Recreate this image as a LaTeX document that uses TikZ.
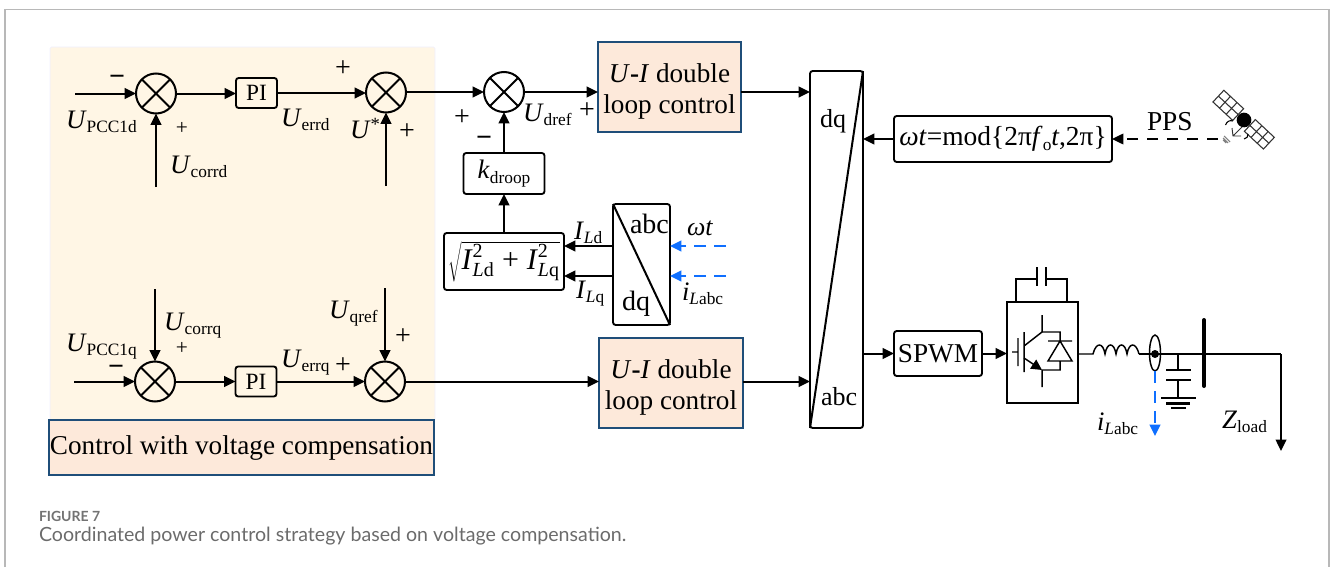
\documentclass[tikz,border=0pt]{standalone}
\usepackage{fontspec}
\setmainfont{Liberation Serif}
\newfontfamily\capfont{Lato}
\usetikzlibrary{arrows.meta,shapes.geometric,calc}
\newcommand\lowtx[1]{\raisebox{-3.4pt}{\fontsize{13}{14}\selectfont #1}}
\newcommand\ivar[2]{{\fontsize{20}{22}\selectfont\textit{#1}\lowtx{#2}}}
\definecolor{panelc}{HTML}{FFF6E5}
\definecolor{barc}{HTML}{FDE9DA}
\definecolor{edgec}{HTML}{1F4E79}
\definecolor{bluec}{HTML}{0F6FFF}
\tikzset{
 x=0.75pt,y=-0.75pt,
 tip/.style={-{Triangle[length=8.5pt,width=8pt]}},
 wire/.style={line width=1.5pt,black},
 flow/.style={wire,tip},
 dashblue/.style={line width=1.4pt,bluec,dash pattern=on 9pt off 6pt},
 dims/.style 2 args={minimum width=#1*0.75pt,minimum height=#2*0.75pt,inner sep=0pt,outer sep=0pt},
 ctrlclear/.style={draw=black,line width=1.4pt,rounded corners=2pt},
 tint/.style={draw=edgec,line width=1.2pt,fill=barc},
 sumj/.style={circle,draw=black,line width=1.5pt,minimum size=40*0.75pt,inner sep=0pt,outer sep=0pt,
   path picture={\draw[line width=1.4pt] (path picture bounding box.north west) -- (path picture bounding box.south east)
   (path picture bounding box.north east) -- (path picture bounding box.south west);}},
 lab/.style={anchor=base west,inner sep=0pt,outer sep=0pt},
 sign/.style={anchor=base,inner sep=0pt,outer sep=0pt,font=\fontsize{21}{22}\selectfont},
 signs/.style={anchor=base,inner sep=0pt,outer sep=0pt,font=\fontsize{16}{17}\selectfont},
 bigt/.style={font=\fontsize{20.4}{23.25}\selectfont},
 midt/.style={font=\fontsize{19.5}{21}\selectfont},
 adt/.style={font=\fontsize{21}{22}\selectfont},
 pit/.style={font=\fontsize{17.5}{19}\selectfont}
}
\begin{document}
\begin{tikzpicture}
\useasboundingbox (0,0) rectangle (1330,567);
% frame
\draw[line width=0.9pt,black!28] (5,567) -- (5,9.5) -- (1329,9.5) -- (1329,567);
% panel
\node[fill=panelc,dims={385}{374},anchor=north west,draw=blue!6,line width=0.5pt,rounded corners=1pt] (panel) at (50,47) {};
\node[tint,dims={385}{55},bigt,text height=15pt,text depth=3.8pt] (bar) at (241.5,447.5) {Control with voltage compensation};
% junctions
\node[sumj] (S1) at (156,93.5) {};
\node[sumj] (S2) at (386,92.5) {};
\node[sumj] (S3) at (504,92) {};
\node[sumj] (S4) at (155,381.5) {};
\node[sumj] (S5) at (385,381.5) {};
% boxes
\node[ctrlclear,dims={41}{30},pit] (PI1) at (256.5,93) {PI};
\node[ctrlclear,dims={41}{30},pit] (PI2) at (256,381.5) {PI};
\node[tint,dims={143}{90},bigt,align=center] (UI1) at (669.5,87) {\rule{0pt}{21pt}\textit{U}\textbf{-}\textit{I} double\\loop control};
\node[tint,dims={144}{90},bigt,align=center] (UI2) at (671,383) {\rule{0pt}{21pt}\textit{U}\textbf{-}\textit{I} double\\loop control};
\node[ctrlclear,dims={81}{41}] (kd) at (504,173.5) {\fontsize{20}{22}\selectfont\textit{k}\lowtx{droop}};
\node[ctrlclear,dims={120}{57}] (sq) at (504,261.5) {\fontsize{22.5}{24}\selectfont$\sqrt{\hbox{\textit{I}}^{\hbox{\fontsize{15}{16}\selectfont 2}}_{\hbox{\fontsize{15}{16}\selectfont\textit{L}d}}\;\hbox{+}\;\hbox{\textit{I}}^{\hbox{\fontsize{15}{16}\selectfont 2}}_{\hbox{\fontsize{15}{16}\selectfont\textit{L}q}}}$};
\node[ctrlclear,dims={57}{121}] (ad) at (641.5,264.5) {};
\draw[wire] (ad.north west) -- (ad.south east);
\node[ctrlclear,dims={53}{357}] (dq) at (836.5,249.5) {};
\draw[wire] (dq.north east) -- (dq.south west);
\node[ctrlclear,dims={218}{46},font=\fontsize{20.6}{22}\selectfont] (wt) at (1003,139) {\textit{ωt}=mod\{2π\textit{f}\lowtx{o}\textit{t},2π\}};
\node[ctrlclear,dims={88}{45},bigt] (pwm) at (938,353.5) {SPWM};
\node[draw=black,line width=1.4pt,dims={71}{101}] (conv) at (1042.5,352.5) {};
% free ends
\coordinate (in1) at (75,93.5);
\coordinate (in2) at (156,187);
\coordinate (in3) at (386,186);
\coordinate (in4) at (155,289);
\coordinate (in5) at (74,381.5);
\coordinate (in6) at (385,288);
\coordinate (ppsend) at (1218,139);
\coordinate (wtin) at (726,246);
\coordinate (iin) at (726,276);
\coordinate (ad1) at (613,246);
\coordinate (ad2) at (613,276);
\coordinate (busin) at (1139,354);
\coordinate (busend) at (1281,354);
\coordinate (loadend) at (1281,451);
\coordinate (meas) at (1155,436);
% connectors
\draw[flow] (in1) -- (S1);
\draw[flow] (in2) -- (S1);
\draw[flow] (S1) -- (S1 -| PI1.west);
\draw[flow] (PI1.east) -- (PI1.east -| S2.west);
\draw[flow] (in3) -- (S2);
\draw[flow] (S3 -| S2.east) -- (S3);
\draw[flow] (S3) -- (S3 -| UI1.west);
\draw[flow] (S3 -| UI1.east) -- (S3 -| dq.west);
\draw[flow] (kd.north) -- (S3);
\draw[flow] (sq.north) -- (kd.south);
\draw[flow] (ad1) -- (ad1 -| sq.east);
\draw[flow] (ad2) -- (ad2 -| sq.east);
\draw[dashblue,tip] (wtin) -- (wtin -| ad.east);
\draw[dashblue,tip] (iin) -- (iin -| ad.east);
\draw[flow] (in4) -- (S4);
\draw[flow] (in5) -- (S4);
\draw[flow] (S4) -- (PI2);
\draw[flow] (PI2) -- (S5);
\draw[flow] (in6) -- (S5);
\draw[flow] (S5) -- (S5 -| UI2.west);
\draw[flow] (S5 -| UI2.east) -- (S5 -| dq.west);
\draw[flow] (wt.west) -- (wt.west -| dq.east);
\draw[line width=1.1pt,tip,dash pattern=on 8pt off 7pt] (ppsend) -- (wt.east);
\draw[flow] (pwm.west -| dq.east) -- (pwm.west);
\draw[flow] (pwm.east) -- (pwm.east -| conv.west);
% converter top capacitor
\draw[line width=1.1pt] (1016,302) -- (1016,279) -- (1037,279) (1037,267) -- (1037,286) (1046,267) -- (1046,286) (1046,279) -- (1067,279) -- (1067,302);
% IGBT + diode
\draw[line width=1.1pt] (1012,352) -- (1018,352) (1018,338) -- (1018,366) (1024,332) -- (1024,372)
 (1024,346) -- (1042,332) (1042,315) -- (1042,332) -- (1060,332) -- (1060,341)
 (1060,361) -- (1060,370) -- (1042,370) (1042,370) -- (1042,387)
 (1048,341) -- (1072,341) (1060,341) -- (1048,361) -- (1072,361) -- cycle;
\draw[line width=1.1pt,-{Triangle[length=8pt,width=8pt]}] (1024,358) -- (1042,370);
% output
\draw[line width=1.1pt] (conv.east |- busin) -- (1093,354)
 .. controls (1096,342) and (1103,342) .. (1105,354)
 .. controls (1107,342) and (1114,342) .. (1116,354)
 .. controls (1118,342) and (1125,342) .. (1127,354)
 .. controls (1129,342) and (1136,342) .. (1139,354) -- (busin);
\draw[line width=1.1pt] (busin) -- (busend);
\draw[line width=1.1pt,tip] (busend) -- (loadend);
\draw[line width=3pt,line cap=round] (1204,320) -- (1204,386);
\node[ellipse,draw=black,line width=1.1pt,dims={11}{36},fill=none] (ct) at (1155,353) {};
\fill (1155,354) circle[radius=3pt];
\draw[dashblue,tip] (ct.south) -- (meas);
\draw[line width=1.1pt] (1178,354) -- (1178,370) (1166,370) -- (1191,370) (1166,380) -- (1191,380);
\draw[line width=1.8pt] (1178,380) -- (1178,398);
\draw[line width=1.6pt] (1161,398) -- (1196,398) (1166,403.5) -- (1190,403.5) (1171,408) -- (1186,408);
% satellite
\begin{scope}[shift={(1244,120)},rotate=-43]
 \draw[line width=0.8pt,black!80] (-35,-8) rectangle (-8,8) (34,-8) rectangle (8,8)
  (-26,-8) -- (-26,8) (-17,-8) -- (-17,8) (-35,0) -- (-8,0)
  (17,-8) -- (17,8) (25.5,-8) -- (25.5,8) (8,0) -- (34,0);
 \fill (0,0) circle[radius=5.5pt];
\end{scope}
\draw[line width=0.8pt] (1225.5,125) .. controls (1227,121) and (1230,120) .. (1233,121);
\draw[line width=0.8pt] (1244,139) .. controls (1247,139) and (1248,136) .. (1248,134);
\draw[line width=0.7pt,black!80] (1242,127) -- (1233,136) (1232,128) -- (1233,136) -- (1241,136);
\draw[line width=0.8pt,black!50] (1224,136) -- (1230,142) (1223,138) -- (1228,143) (1223,140) -- (1226,143);
% labels
\node[lab] (t1) at (66,128) {\ivar{U}{PCC1d}};
\node[sign] (t2) at (117,85) {\textbf{−}};
\node[signs] (t3) at (182,134) {+};
\node[lab] (t4) at (170,173) {\ivar{U}{corrd}};
\node[lab] (t5) at (281,126) {\ivar{U}{errd}};
\node[sign] (t6) at (343,77) {+};
\node[lab] (t7) at (350,138) {\fontsize{20}{22}\selectfont\textit{U}\raisebox{6pt}{\fontsize{14}{15}\selectfont *}};
\node[sign] (t8) at (407,139) {+};
\node[sign] (t9) at (462,125) {+};
\node[sign] (t10) at (484,146) {\textbf{−}};
\node[lab] (t11) at (523,121) {\ivar{U}{dref}};
\node[sign] (t12) at (587,118) {+};
\node[lab] (t13) at (66,351) {\ivar{U}{PCC1q}};
\node[sign] (t14) at (116,375) {\textbf{−}};
\node[lab] (t15) at (164,330) {\ivar{U}{corrq}};
\node[signs] (t16) at (182,354) {+};
\node[lab] (t17) at (281,367) {\ivar{U}{errq}};
\node[sign] (t18) at (343,373) {+};
\node[lab] (t19) at (329,318) {\ivar{U}{qref}};
\node[sign] (t20) at (403,344) {+};
\node[lab] (t21) at (574,239) {\ivar{I}{\textit{L}d}};
\node[lab] (t22) at (576,298) {\ivar{I}{\textit{L}q}};
\node[lab,adt] (t23) at (630,233) {abc};
\node[lab,adt] (t24) at (622,310) {dq};
\node[lab,midt] (t25) at (687,235) {\textit{ωt}};
\node[lab] (t26) at (682,300) {\ivar{i}{\textit{L}abc}};
\node[lab,midt] (t27) at (820,127) {dq};
\node[lab,midt] (t28) at (821,405) {abc};
\node[lab,font=\fontsize{20.5}{22}\selectfont] (t29) at (1147,130) {PPS};
\node[lab] (t30) at (1097,430) {\ivar{i}{\textit{L}abc}};
\node[lab] (t31) at (1222,428) {\ivar{Z}{load}};
% caption
\node[lab,text=black!55] (c1) at (39,521) {\capfont\fontsize{10.5}{12}\selectfont\bfseries FIGURE 7};
\node[lab,text=black!58] (c2) at (39,541) {\capfont\fontsize{14.7}{16}\selectfont Coordinated power control strategy based on voltage compensation.};
\end{tikzpicture}
\end{document}
